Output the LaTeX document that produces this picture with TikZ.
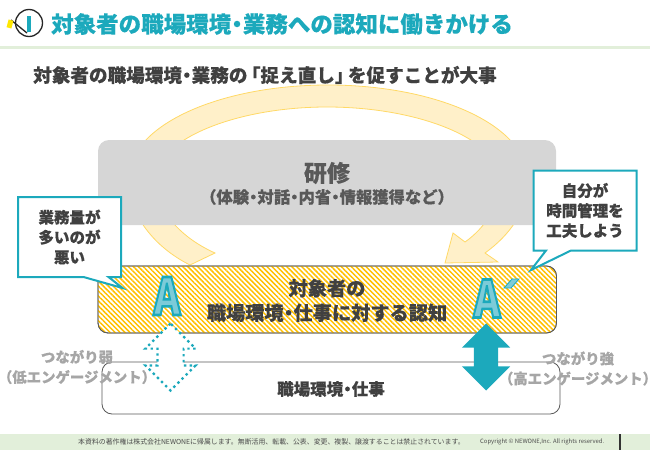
\documentclass[tikz,border=0pt]{standalone}
\usepackage{fontspec}
\setmainfont{Noto Sans CJK JP}[BoldFeatures={FakeBold=0.35}]
\newfontfamily\letterfam{Noto Sans CJK JP}[BoldFeatures={FakeBold=5}]
\usetikzlibrary{positioning,shapes.arrows,shapes.callouts,patterns.meta}
\definecolor{tealc}{HTML}{1CA9BC}
\definecolor{paleteal}{HTML}{7CCBD8}
\definecolor{palegreen}{HTML}{E2EFDA}
\definecolor{hatchc}{HTML}{FFC000}
\definecolor{ringfill}{HTML}{FFF0C9}
\definecolor{ringline}{HTML}{FFD966}
\definecolor{darktx}{HTML}{404040}
\definecolor{midtx}{HTML}{595959}
\definecolor{softtx}{HTML}{A6A6A6}
\newcommand{\nk}{\kern-.24em・\kern-.24em}
\newcommand{\bigletter}[1]{\special{pdf:bcolor [0.486 0.796 0.847] [0.11 0.663 0.737]}#1\special{pdf:ecolor}}

\begin{document}
\begin{tikzpicture}[
  x=1pt, y=-1pt,
  font=\bfseries,
  tx/.style={inner sep=0pt, align=center},
  callout/.style={rectangle callout, draw=tealc, line width=2pt, fill=white, inner sep=0pt,
    minimum width=103pt, minimum height=80pt, callout pointer width=25pt, align=center,
    text=darktx, font=\bfseries\fontsize{15.5}{20}\selectfont},
  blockarrow/.style={double arrow, rotate=90, double arrow head extend=12pt, inner xsep=0pt, inner ysep=12pt,
    minimum width=48pt, minimum height=67pt, double arrow tip angle=90},
  lettertx/.style={tx, xscale=0.8, font=\letterfam\bfseries\fontsize{51}{51}\selectfont},
  sidetx/.style={tx, text=softtx, font=\bfseries\fontsize{14.4}{20}\selectfont}]
\useasboundingbox (0,0) rectangle (650,450);

% ===== header and footer =====
\fill[palegreen] (0,46) rectangle (650,49);
\fill[palegreen] (0,434) rectangle (650,450);
\fill[black!80] (618.5,434) rectangle (620.5,450);
\node[circle, draw=black!85, line width=1.3pt, minimum size=27pt, inner sep=0pt] (logoring) at (29,23) {};
\fill[tealc] (27,16) rectangle (31,32);
\draw[black!85, line width=1.3pt] (11,20) -- (27,33);
\fill[yellow!90!orange, rotate around={-15:(10,24)}] (7.5,20) rectangle (12.5,28);
\node[tx, anchor=west, text=tealc, font=\bfseries\fontsize{22.5}{28}\selectfont] (title) at (51,24)
  {対象者の職場環境\nk 業務への認知に働きかける};
\node[tx, anchor=west, text=darktx, font=\bfseries\fontsize{18.6}{24}\selectfont] (lead) at (33,75)
  {対象者の職場環境\nk 業務の\kern-.3em「捉え直し」\kern-.3em を促すことが大事};
\node[tx, anchor=west, text=black!70, font=\mdseries\fontsize{6.9}{8}\selectfont] (rights) at (78,442)
  {本資料の著作権は株式会社NEWONEに帰属します。無断活用、転載、公表、変更、複製、譲渡することは禁止されています。};
\node[tx, anchor=west, text=black!70, font=\mdseries\fontsize{5.9}{8}\selectfont] (copyr) at (480,442)
  {Copyright © NEWONE,Inc. All rights reserved.};

% ===== ring arrow =====
\draw[fill=ringfill, draw=ringline, line width=0.8pt]
  (190,265) .. controls (150,245) and (128,210) .. (128,180)
  .. controls (128,125) and (220,85) .. (328,85)
  .. controls (436,85) and (528,125) .. (528,180)
  .. controls (528,210) and (510,235) .. (485,253)
  -- (498,262) -- (445,263) -- (453,233) -- (465,242)
  .. controls (485,228) and (500,205) .. (500,180)
  .. controls (500,140) and (420,107) .. (327,107)
  .. controls (235,107) and (155,140) .. (155,180)
  .. controls (155,205) and (175,235) .. (215,253) -- cycle;

% ===== boxes =====
\fill[black!16] (98,225) [rounded corners=11pt] -- (98,140) -- (556,140) -- (556,225) [sharp corners] -- cycle;
\node[tx, text=midtx, font=\bfseries\fontsize{23}{28}\selectfont] (train) at (327,173) {研修};
\node[tx, text=midtx, font=\bfseries\fontsize{16.3}{20}\selectfont] (trainsub) at (327,197)
  {（体験\nk 対話\nk 内省\nk 情報獲得など）};

\draw[rounded corners=10pt, draw=black!65, line width=0.8pt, fill=white] (102,362) rectangle (560,414);
\node[tx, text=darktx, font=\bfseries\fontsize{16.5}{20}\selectfont] (work) at (331,389) {職場環境\nk 仕事};

\draw[rounded corners=10pt, draw=black!65, line width=0.8pt, fill=white] (98,266) rectangle (556.5,333);
\fill[rounded corners=10pt, pattern={Lines[angle=-45,distance=3.5pt,line width=1.5pt]}, pattern color=hatchc]
  (98,266) rectangle (556.5,333);
\draw[rounded corners=10pt, draw=black!65, line width=0.8pt] (98,266) rectangle (556.5,333);
\node[tx, text=darktx, font=\bfseries\fontsize{19.2}{24.5}\selectfont] (aware) at (327,300.5)
  {対象者の\\職場環境\nk 仕事に対する認知};

% ===== letters A =====
\node[lettertx] (lettera) at (167,296) {\bigletter{A}};
\node[lettertx] (letterb) at (487,298.5) {\bigletter{A}};
\fill[paleteal, draw=tealc, line width=0.8pt] (504,288) -- (511,288) -- (519,279) -- (512,279) -- cycle;

% ===== double arrows =====
\node[blockarrow, fill=white, draw=tealc, line width=2.2pt, dash pattern=on 2.4pt off 3.4pt] (weakarrow) at (170.5,357) {};
\node[blockarrow, fill=tealc] (strongarrow) at (486,357) {};

% ===== callouts =====
\node[callout, callout absolute pointer={(122.5,288)}] (leftsay) at (69.5,237) {業務量が\\多いのが\\悪い};
\node[callout, callout absolute pointer={(531,270)}] (rightsay) at (585,210.5) {自分が\\時間管理を\\工夫しよう};

% ===== side labels =====
\node[sidetx, align=center] (weaktx) at (77,367) {つながり弱\\\kern-.5em（低エンゲージメント）\kern-.5em};
\node[sidetx, align=center] (strongtx) at (578,368.5) {つながり強\\\kern-.5em（高エンゲージメント）\kern-.5em};

\end{tikzpicture}
\end{document}
